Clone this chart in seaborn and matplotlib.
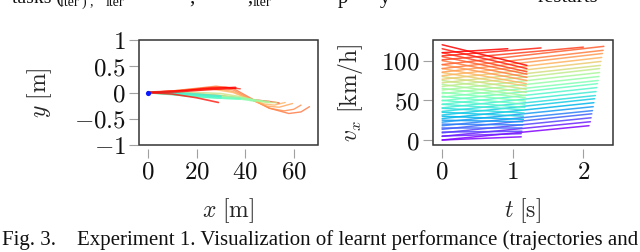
import numpy as np
import pandas as pd
import matplotlib
matplotlib.use("Agg")
import matplotlib.pyplot as plt
from matplotlib.patches import Rectangle
import seaborn as sns

# left panel: planar trajectories (x [m], y [m]), colour value on rainbow map
# drawn in this order (later ones on top)
traj_x = [
    [0, 10, 20, 28, 35, 42, 50, 58, 63, 66.5],
    [0, 10, 20, 28, 35, 42, 50, 56, 60, 63],
    [0, 10, 20, 27, 35, 42, 49, 54, 59.5],
    [0, 10, 20, 27, 35, 42, 48, 52, 56.5],
    [0, 15, 30, 42, 50, 54],
    [0, 15, 25, 32, 38],
    [0, 10, 20, 30, 38, 44, 49, 53],
    [0, 10, 20, 30, 40, 47],
    [0, 10, 20, 30, 38, 45, 50],
    [0, 10, 20, 30, 38, 44],
    [0, 8, 16, 24, 32, 38],
    [0, 8, 16, 24, 30],
    [0, 8, 16, 24, 30],
    [0, 10, 20, 29],
    [0, 12, 24, 36],
]
traj_y = [
    [0, 0.03, 0.08, 0.12, 0.08, -0.10, -0.30, -0.40, -0.37, -0.27],
    [0, 0.03, 0.07, 0.10, 0.05, -0.12, -0.30, -0.35, -0.32, -0.24],
    [0, 0.02, 0.06, 0.08, 0.02, -0.13, -0.26, -0.28, -0.21],
    [0, 0.02, 0.05, 0.06, 0.00, -0.13, -0.22, -0.24, -0.19],
    [0, -0.01, -0.06, -0.13, -0.17, -0.20],
    [0, 0.04, 0.09, 0.10, 0.07],
    [0, 0.00, 0.00, -0.02, -0.08, -0.15, -0.19, -0.19],
    [0, -0.01, -0.03, -0.06, -0.12, -0.17],
    [0, -0.02, -0.05, -0.08, -0.10, -0.15, -0.18],
    [0, -0.03, -0.07, -0.10, -0.12, -0.16],
    [0, -0.03, -0.06, -0.09, -0.11, -0.12],
    [0, -0.02, -0.05, -0.08, -0.10],
    [0, 0.00, -0.02, -0.05, -0.07],
    [0, -0.03, -0.10, -0.19],
    [0, 0.02, 0.06, 0.09],
]
traj_c = [0.85, 0.82, 0.78, 0.75, 0.93, 0.95, 0.65, 0.6, 0.56, 0.52, 0.46, 0.42, 0.38, 0.97, 1.0]
traj_w = [1.0, 1.0, 1.0, 1.0, 1.0, 1.0, 1.2, 1.3, 1.4, 1.5, 1.5, 1.5, 1.5, 1.2, 1.8]

# right panel: speed profiles v_x [km/h] over t [s]
vA_start = [0, 5, 10, 15, 20, 25, 30, 35, 40, 45, 50, 55, 60, 65, 70, 75, 80, 85, 90, 95, 100, 105, 110, 115, 120]
vA_end = [4, 8, 11, 15, 19, 23, 26, 30, 34, 38, 41, 45, 49, 53, 56, 60, 64, 68, 71, 75, 79, 83, 86, 90, 94]
tA_end = [1.12, 1.12, 1.13, 1.13, 1.14, 1.14, 1.15, 1.15, 1.16, 1.16, 1.17, 1.17, 1.18, 1.18, 1.18, 1.19, 1.19, 1.19, 1.19, 1.2, 1.2, 1.2, 1.2, 1.2, 1.2]
vB_start = [0, 4.6, 9, 13.5, 18, 22.5, 27, 31.5, 36, 40.5, 45, 49.5, 54, 58.5, 63, 67.5, 72, 76.5, 81, 85.5, 90, 95, 101, 106, 110]
vB_end = [18, 23, 28, 33, 37, 42, 47, 52, 56, 61, 66, 71, 75, 80, 85, 90, 94, 99, 104, 109, 113, 118, 117, 116, 115]
tB_end = [2.08, 2.1, 2.11, 2.12, 2.13, 2.14, 2.15, 2.16, 2.17, 2.18, 2.19, 2.2, 2.21, 2.22, 2.23, 2.23, 2.24, 2.25, 2.26, 2.27, 2.28, 2.29, 2.0, 1.4, 0.93]

x1_ticks = [0, 20, 40, 60]
y1_ticks = [-1, -0.5, 0, 0.5, 1]
x2_ticks = [0, 1, 2]
y2_ticks = [0, 50, 100]

caption = "Fig. 3.    Experiment 1. Visualization of learnt performance (trajectories and"

sns.set_theme(style="white")
plt.rcParams.update({"mathtext.fontset": "cm", "font.family": ["DejaVu Serif"]})

fig = plt.figure(figsize=(6.4, 2.52), dpi=100)
ax1 = fig.add_axes([139 / 640, 107 / 252, 179 / 640, 105 / 252])
ax2 = fig.add_axes([433 / 640, 107 / 252, 180 / 640, 105 / 252])

cmap = plt.cm.rainbow

for xs, ys, c, w in zip(traj_x, traj_y, traj_c, traj_w):
    sns.lineplot(x=xs, y=ys, color=cmap(c), linewidth=w, alpha=0.8,
                 sort=False, estimator=None, ax=ax1)
sns.scatterplot(x=[0], y=[0], color="#0a1aff", s=14, linewidth=0, ax=ax1, zorder=5)

rows = []
for i in range(len(vA_start)):
    rows.append(("A%d" % i, i, 0.0, vA_start[i]))
    rows.append(("A%d" % i, i, tA_end[i], vA_end[i]))
    rows.append(("B%d" % i, i, 0.0, vB_start[i]))
    rows.append(("B%d" % i, i, tB_end[i], vB_end[i]))
df_v = pd.DataFrame(rows, columns=["line", "idx", "t", "v"])
n = len(vA_start)
pal = {name: cmap(int(name[1:]) / (n - 1)) for name in df_v["line"].unique()}
sns.lineplot(data=df_v, x="t", y="v", hue="line", palette=pal, units="line",
             estimator=None, sort=False, legend=False, linewidth=1.1, alpha=0.85, ax=ax2)

ax1.set_xlim(-3.7, 70)
ax1.set_ylim(-1, 1)
ax2.set_xlim(-0.13, 2.42)
ax2.set_ylim(-6.3, 126)

ax1.set_xticks(x1_ticks, [f"${v:g}$" for v in x1_ticks])
ax1.set_yticks(y1_ticks, [f"${v:g}$" for v in y1_ticks])
ax2.set_xticks(x2_ticks, [f"${v:g}$" for v in x2_ticks])
ax2.set_yticks(y2_ticks, [f"${v:g}$" for v in y2_ticks])

ax1.set_xlabel(r"$x\ [\mathrm{m}]$", fontsize=17, labelpad=9)
ax1.set_ylabel(r"$y\ [\mathrm{m}]$", fontsize=17, labelpad=14)
ax2.set_xlabel(r"$t\ [\mathrm{s}]$", fontsize=17, labelpad=9)
ax2.set_ylabel(r"$v_x\ [\mathrm{km/h}]$", fontsize=17, labelpad=12)

for ax in (ax1, ax2):
    for s in ax.spines.values():
        s.set_visible(False)
    ax.spines["left"].set_position(("outward", 1))
    ax.spines["bottom"].set_position(("outward", 3))
    ax.add_patch(Rectangle((0, 0), 1, 1, transform=ax.transAxes, fill=False,
                           edgecolor="#333333", linewidth=1.1, clip_on=False, zorder=10))
    ax.tick_params(bottom=True, left=True, direction="out", length=6.5, width=0.8,
                   color="#a0a0a0", labelsize=18, pad=2, labelcolor="#111111")
    ax.grid(False)

fig.text(2 / 640, 1 - 245 / 252, caption, family="Liberation Serif", fontsize=15,
         va="baseline", ha="left", color="#111111")

# bottom edge of the previous caption line, cut off by the crop
for txt, px, py, fs in [("tasks (", 12, 3, 14), ("iter ) ,", 60, 6, 10), ("iter", 106, 6, 10),
                        (",          ,", 190, 3, 15), ("iter", 253, 6, 10),
                        ("p      y", 338, 3, 15), ("restarts", 538, 2, 15)]:
    fig.text(px / 640, 1 - py / 252, txt, family="Liberation Serif", fontsize=fs,
             va="baseline", ha="left", color="#111111")

fig.savefig("out.png", dpi=100)
